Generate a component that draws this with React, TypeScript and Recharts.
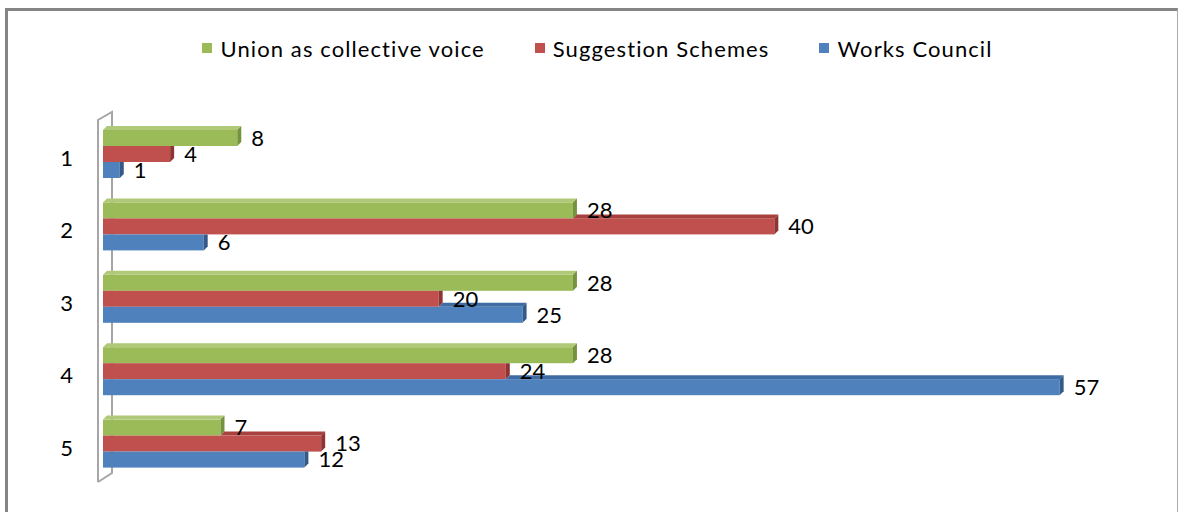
import { BarChart, Bar, XAxis, YAxis, LabelList, Legend } from 'recharts';

const categories = ['1', '2', '3', '4', '5'];
const unionVoice = [8, 28, 28, 28, 7];
const suggestionSchemes = [4, 40, 20, 24, 13];
const worksCouncil = [1, 6, 25, 57, 12];

const data = categories.map((cat, i) => ({
  cat,
  union: unionVoice[i],
  suggestion: suggestionSchemes[i],
  works: worksCouncil[i],
}));

const series = [
  { key: 'union', name: 'Union as collective voice', front: '#9BBB59', top: '#AFC978', side: '#76923C', above: null },
  { key: 'suggestion', name: 'Suggestion Schemes', front: '#C0504D', top: '#A8403D', side: '#8E3432', above: 'union' },
  { key: 'works', name: 'Works Council', front: '#4F81BD', top: '#3F6CA3', side: '#335A88', above: 'suggestion' },
];

const FONT = 'Lato, "Open Sans", sans-serif';
const DEPTH = 4;
const LEGEND_H = 26;

// 3d-ish bar: front face, top face (only where the bar above doesn't cover it), right end face
function make3D(s: (typeof series)[number]) {
  return (props: any) => {
    const { x, y, width, height, payload } = props;
    if (width <= 0) return <g />;
    const value = payload[s.key];
    const aw = s.above ? Math.min(width, (width * payload[s.above]) / value) : 0;
    const d = DEPTH;
    const covered = aw >= width;
    return (
      <g>
        <rect x={x} y={y} width={width} height={height} fill={s.front} />
        {!covered && (
          <polygon
            points={`${x + aw},${y} ${x + aw + d},${y - d} ${x + width + d},${y - d} ${x + width},${y}`}
            fill={s.top}
          />
        )}
        <polygon
          points={
            covered
              ? `${x + width},${y} ${x + width + d},${y} ${x + width + d},${y + height - d} ${x + width},${y + height}`
              : `${x + width},${y} ${x + width + d},${y - d} ${x + width + d},${y + height - d} ${x + width},${y + height}`
          }
          fill={s.side}
        />
      </g>
    );
  };
}

function LegendContent() {
  return (
    <div
      style={{
        display: 'flex',
        justifyContent: 'center',
        gap: 50,
        paddingLeft: 16,
        height: LEGEND_H,
        alignItems: 'center',
        fontFamily: FONT,
        fontSize: 22,
        letterSpacing: 1.1,
        color: '#000',
      }}
    >
      {series.map((s) => (
        <div key={s.key} style={{ display: 'flex', alignItems: 'center' }}>
          <span style={{ width: 10, height: 10, background: s.front, marginRight: 8, display: 'inline-block' }} />
          <span>{s.name}</span>
        </div>
      ))}
    </div>
  );
}

export default function App() {
  return (
    <div style={{ position: 'absolute', left: 0, top: 0, width: 1179, height: 512, background: '#fff', overflow: 'hidden' }}>
      <div
        style={{
          position: 'absolute',
          left: 5,
          top: 8,
          width: 1173,
          height: 520,
          boxSizing: 'border-box',
          borderTop: '3px solid #858585',
          borderLeft: '3px solid #858585',
          borderRight: '1px solid #ABABAB',
        }}
      />
      <svg style={{ position: 'absolute', left: 0, top: 0 }} width={1179} height={512}>
        <polyline points="98,482 98,120 112,112 112,473 98,482" fill="none" stroke="#A6A6A6" strokeWidth={2} />
      </svg>
      <div style={{ position: 'absolute', left: 0, top: 0 }}>
        <BarChart
          width={1179}
          height={512}
          data={data}
          layout="vertical"
          margin={{ top: 118 - LEGEND_H, right: 69, bottom: 32, left: 0 }}
          barGap={0}
          barSize={16}
        >
          <XAxis type="number" domain={[0, 60]} hide />
          <YAxis
            type="category"
            dataKey="cat"
            width={103}
            axisLine={false}
            tickLine={false}
            tickMargin={24}
            tick={{ fontSize: 22, fontFamily: FONT, fill: '#000', dy: 4 }}
          />
          <Legend
            verticalAlign="top"
            height={LEGEND_H}
            wrapperStyle={{ top: 35, left: 0, width: 1179 }}
            content={<LegendContent />}
          />
          {series.map((s) => (
            <Bar key={s.key} dataKey={s.key} name={s.name} fill={s.front} shape={make3D(s)} isAnimationActive={false}>
              <LabelList
                dataKey={s.key}
                position="right"
                offset={14}
                style={{ fontSize: 22, fontFamily: FONT, fill: '#000' }}
              />
            </Bar>
          ))}
        </BarChart>
      </div>
    </div>
  );
}
